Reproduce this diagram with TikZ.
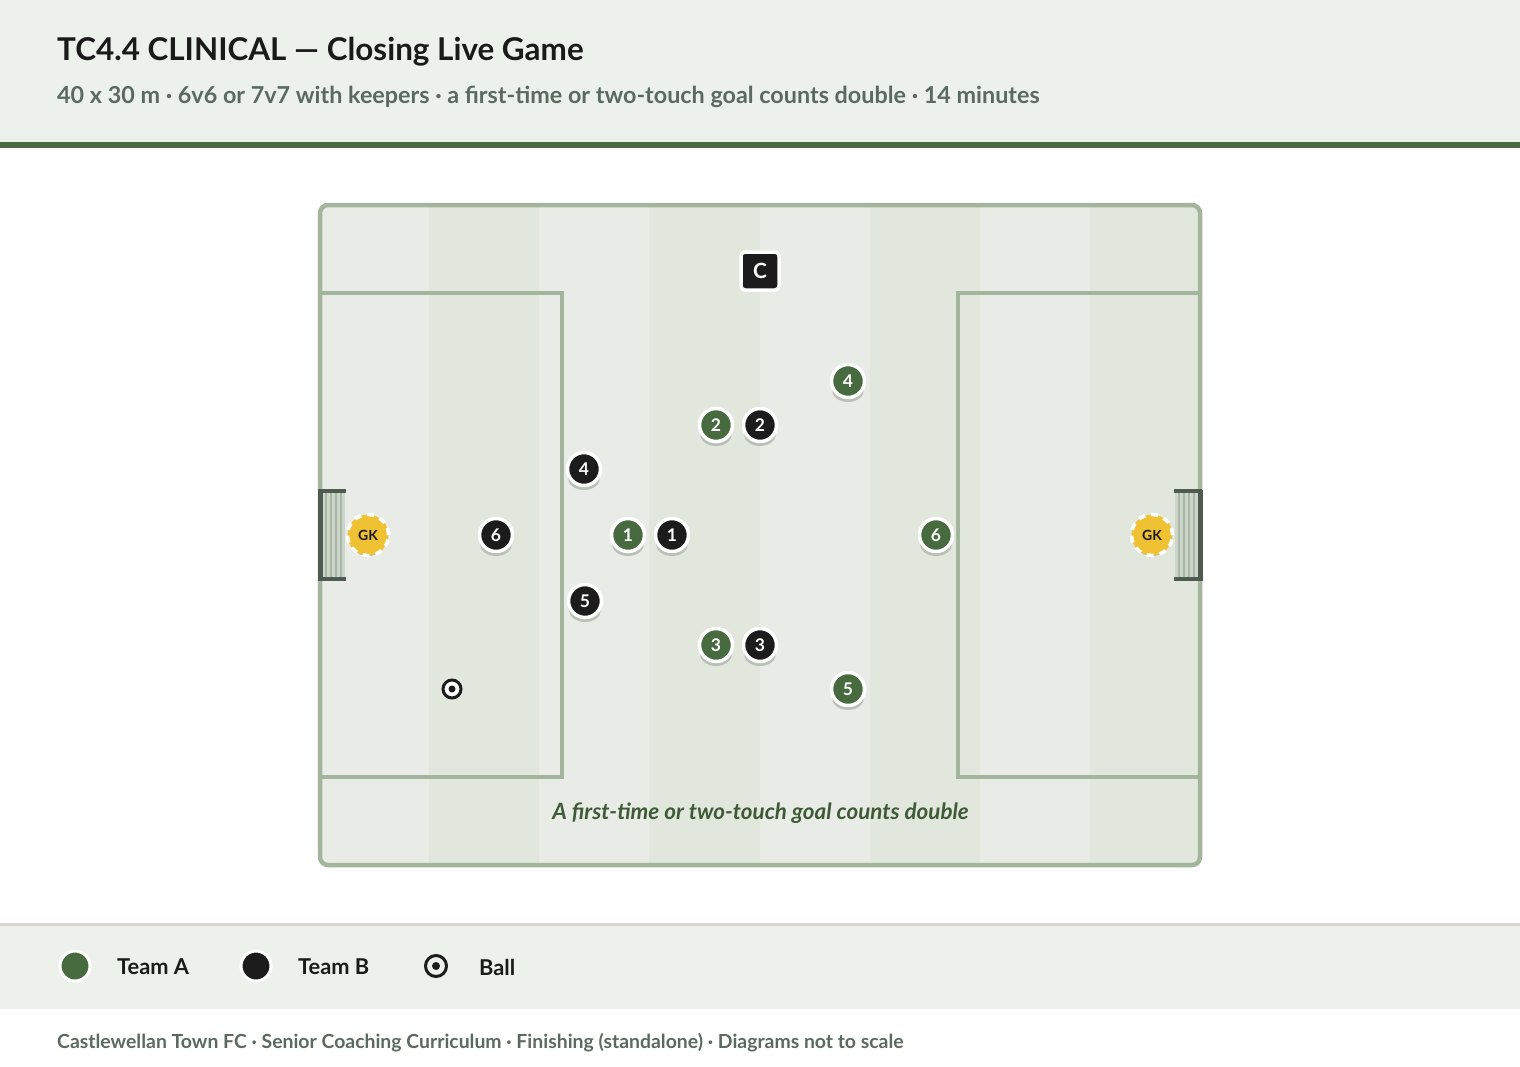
\documentclass[tikz,border=0pt]{standalone}
\usepackage{fontspec}
\setmainfont{Lato}[BoldFont={Lato Bold},BoldItalicFont={Lato Bold Italic}]
\definecolor{hdrbg}{HTML}{EDF1EC}
\definecolor{teamA}{HTML}{476A3E}
\definecolor{teamB}{HTML}{1C1C1C}
\definecolor{pline}{HTML}{A3B59C}
\definecolor{stripeL}{HTML}{E9ECE6}
\definecolor{stripeD}{HTML}{E1E7DD}
\definecolor{goalc}{HTML}{4E5B50}
\definecolor{netc}{HTML}{CDD6CA}
\definecolor{netl}{HTML}{A9B6A6}
\definecolor{subc}{HTML}{5B6A5E}
\definecolor{titlec}{HTML}{1A1A1A}
\definecolor{gky}{HTML}{F0C132}
\definecolor{shadowc}{HTML}{B9C0B6}
\definecolor{sepc}{HTML}{D9D5CB}
\definecolor{notec}{HTML}{3E5A36}
\tikzset{
  plA/.style={circle, minimum size=33pt, inner sep=0pt, fill=teamA, draw=white, line width=3.5pt, text=white, font=\bfseries\fontsize{17.5}{20}\selectfont},
  plB/.style={plA, fill=teamB},
  gk/.style={circle, minimum size=41pt, inner sep=0pt, fill=gky, draw=white, line width=3.5pt, dash pattern=on 7pt off 6pt, text=titlec, font=\bfseries\fontsize{14}{16}\selectfont},
  coach/.style={rectangle, minimum size=38pt, inner sep=0pt, rounded corners=4pt, fill=teamB, draw=white, line width=3.5pt, text=white, font=\bfseries\fontsize{21}{24}\selectfont},
  ballst/.style={circle, minimum size=18pt, inner sep=0pt, fill=white, draw=teamB, line width=3pt},
  legtxt/.style={anchor=west, inner sep=0pt, text=titlec, font=\bfseries\fontsize{21.8}{26}\selectfont},
  lineP/.style={draw=pline, line width=3.5pt}
}
\newcommand{\plyr}[5]{%
  \fill[shadowc] (#2,#3+9) ellipse [x radius=16pt, y radius=12pt];
  \node[#4] (#1) at (#2,#3) {#5};}
\begin{document}
\begin{tikzpicture}[x=1pt,y=-1pt]
\useasboundingbox (0,0) rectangle (1520,1066);
\fill[white] (0,0) rectangle (1520,1066);
% header
\fill[hdrbg] (0,0) rectangle (1520,142);
\fill[teamA] (0,142) rectangle (1520,147.5);
\node[anchor=base west, inner sep=0pt, text=titlec, font=\bfseries\fontsize{31.4}{36}\selectfont] (title) at (57,60) {TC4.4 CLINICAL — Closing Live Game};
\node[anchor=base west, inner sep=0pt, text=subc, font=\bfseries\fontsize{23.35}{27}\selectfont] (subtitle) at (57,103.5) {40 x 30 m · 6v6 or 7v7 with keepers · a first-time or two-touch goal counts double · 14 minutes};
% pitch stripes
\begin{scope}
\clip[rounded corners=8pt] (320,205) rectangle (1200,865);
\foreach \i in {0,...,7}{
  \pgfmathtruncatemacro{\parity}{mod(\i,2)}
  \ifnum\parity=0 \def\sc{stripeL}\else\def\sc{stripeD}\fi
  \fill[\sc] (319+110.125*\i,200) rectangle (319+110.125*\i+110.125,870);
}
\end{scope}
% penalty boxes
\draw[lineP] (320,293) rectangle (562,777);
\draw[lineP] (958,293) rectangle (1200,777);
\draw[draw=pline, line width=4.5pt, rounded corners=8pt] (320,205) rectangle (1200,865);
% goals
\fill[netc] (321,491) rectangle (345,579);
\foreach \xx in {326,331,336,341}{\draw[netl, line width=1.2pt] (\xx,492) -- (\xx,578);}
\draw[goalc, line width=3.5pt] (346,491) -- (320,491) -- (320,579) -- (346,579);
\draw[goalc, line width=5pt] (320,489.5) -- (320,580.5);
\fill[netc] (1175,491) rectangle (1199,579);
\foreach \xx in {1179,1184,1189,1194}{\draw[netl, line width=1.2pt] (\xx,492) -- (\xx,578);}
\draw[goalc, line width=3.5pt] (1174,491) -- (1200,491) -- (1200,579) -- (1174,579);
\draw[goalc, line width=5pt] (1200,489.5) -- (1200,580.5);
% keepers
\plyr{gkL}{368}{535}{gk}{GK}
\plyr{gkR}{1152}{535}{gk}{GK}
% coach
\node[coach] (coach) at (760,271) {C};
% players
\plyr{a4}{848}{381}{plA}{4}
\plyr{a2}{716}{425}{plA}{2}
\plyr{b2}{760}{425}{plB}{2}
\plyr{b4}{584}{469}{plB}{4}
\plyr{b6}{496}{535}{plB}{6}
\plyr{a1}{628}{535}{plA}{1}
\plyr{b1}{672}{535}{plB}{1}
\plyr{a6}{936}{535}{plA}{6}
\plyr{b5}{585}{601}{plB}{5}
\plyr{a3}{716}{645}{plA}{3}
\plyr{b3}{760}{645}{plB}{3}
\plyr{a5}{848}{689}{plA}{5}
% ball
\node[ballst] (ball) at (452,689) {};
\fill[teamB] (ball.center) circle (3.5pt);
% note
\node[inner sep=0pt, text=notec, font=\bfseries\itshape\fontsize{22.4}{26}\selectfont] (note) at (760.5,813) {A first-time or two-touch goal counts double};
% legend
\fill[sepc] (0,922.5) rectangle (1520,926);
\fill[hdrbg] (0,926) rectangle (1520,1009);
\node[plA, minimum size=30pt, line width=3pt] (legA) at (75,966) {};
\node[legtxt] (legAt) at (117,967) {Team A};
\node[plB, minimum size=30pt, line width=3pt] (legB) at (256,966) {};
\node[legtxt] (legBt) at (298,967) {Team B};
\node[ballst, minimum size=21pt, fill=hdrbg] (legC) at (436,966) {};
\fill[teamB] (legC.center) circle (4pt);
\node[legtxt] (legCt) at (479,967) {Ball};
% footer
\node[anchor=base west, inner sep=0pt, text=subc, font=\bfseries\fontsize{19.4}{23}\selectfont] (footer) at (57,1048) {Castlewellan Town FC · Senior Coaching Curriculum · Finishing (standalone) · Diagrams not to scale};
\end{tikzpicture}
\end{document}
